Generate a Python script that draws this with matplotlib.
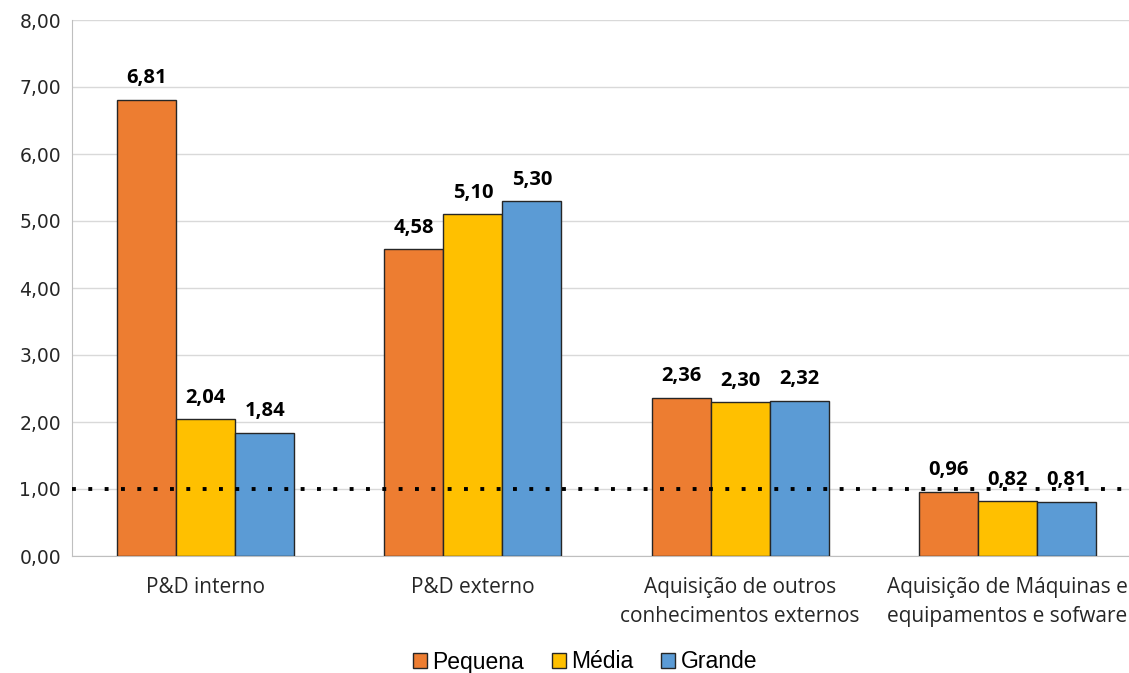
import matplotlib
matplotlib.use("Agg")
import matplotlib.pyplot as plt
import numpy as np

categories = ["P&D interno", "P&D externo", "Aquisição de outros\nconhecimentos externos",
              "Aquisição de Máquinas e\nequipamentos e sofware"]
series_names = ["Pequena", "Média", "Grande"]
pequena = [6.81, 4.58, 2.36, 0.96]
media = [2.04, 5.10, 2.30, 0.82]
grande = [1.84, 5.30, 2.32, 0.81]
yticks = [0, 1, 2, 3, 4, 5, 6, 7, 8]
ref_value = 1.0

colors = ["#ED7D31", "#FFC000", "#5B9BD5"]

fig = plt.figure(figsize=(11.29, 6.73), dpi=100)
W, H = 1129, 673
left, right, top, bottom = 72, 1141, 20, 556
ax = fig.add_axes([left / W, 1 - bottom / H, (right - left) / W, (bottom - top) / H])

x = np.arange(len(categories))
bw = 59 / 267
data = [pequena, media, grande]
for i, (vals, name, c) in enumerate(zip(data, series_names, colors)):
    pos = x + (i - 1) * bw
    ax.bar(pos, vals, width=bw, color=c, edgecolor="#262626", linewidth=1.0,
           label=name, zorder=3)
    for p, v in zip(pos, vals):
        ax.text(p, v + 0.17, f"{v:.2f}".replace(".", ","), ha="center", va="bottom",
                fontsize=14.5, fontweight="bold", family="Open Sans", zorder=5)

ax.axhline(ref_value, color="black", linewidth=2.8, linestyle=(0, (1, 3.2)),
           dash_capstyle="butt", zorder=4)

ax.set_xlim(-0.5, len(categories) - 0.5)
ax.set_ylim(0, 8)
ax.set_yticks(yticks)
ax.set_yticklabels([f"{t:.2f}".replace(".", ",") for t in yticks], fontsize=13.5,
                   family="DejaVu Sans", color="#262626")
ax.set_xticks(x)
ax.set_xticklabels(categories, fontsize=15, family="Open Sans", color="#262626",
                   linespacing=1.5)
ax.tick_params(axis="both", length=0)
ax.tick_params(axis="x", pad=15)
ax.tick_params(axis="y", pad=8)
ax.grid(axis="y", color="#D9D9D9", linewidth=1, zorder=0)
for s in ["top", "right"]:
    ax.spines[s].set_visible(False)
ax.spines["left"].set_color("#BFBFBF")
ax.spines["bottom"].set_color("#BFBFBF")

leg = fig.legend(loc="center", bbox_to_anchor=(585 / W, 1 - 662 / H), ncol=3, frameon=False,
                 prop={"family": "Liberation Sans", "size": 16.5}, handlelength=0.6,
                 handleheight=0.6, handletextpad=0.25, columnspacing=1.2)

fig.savefig("out.png", dpi=100)
